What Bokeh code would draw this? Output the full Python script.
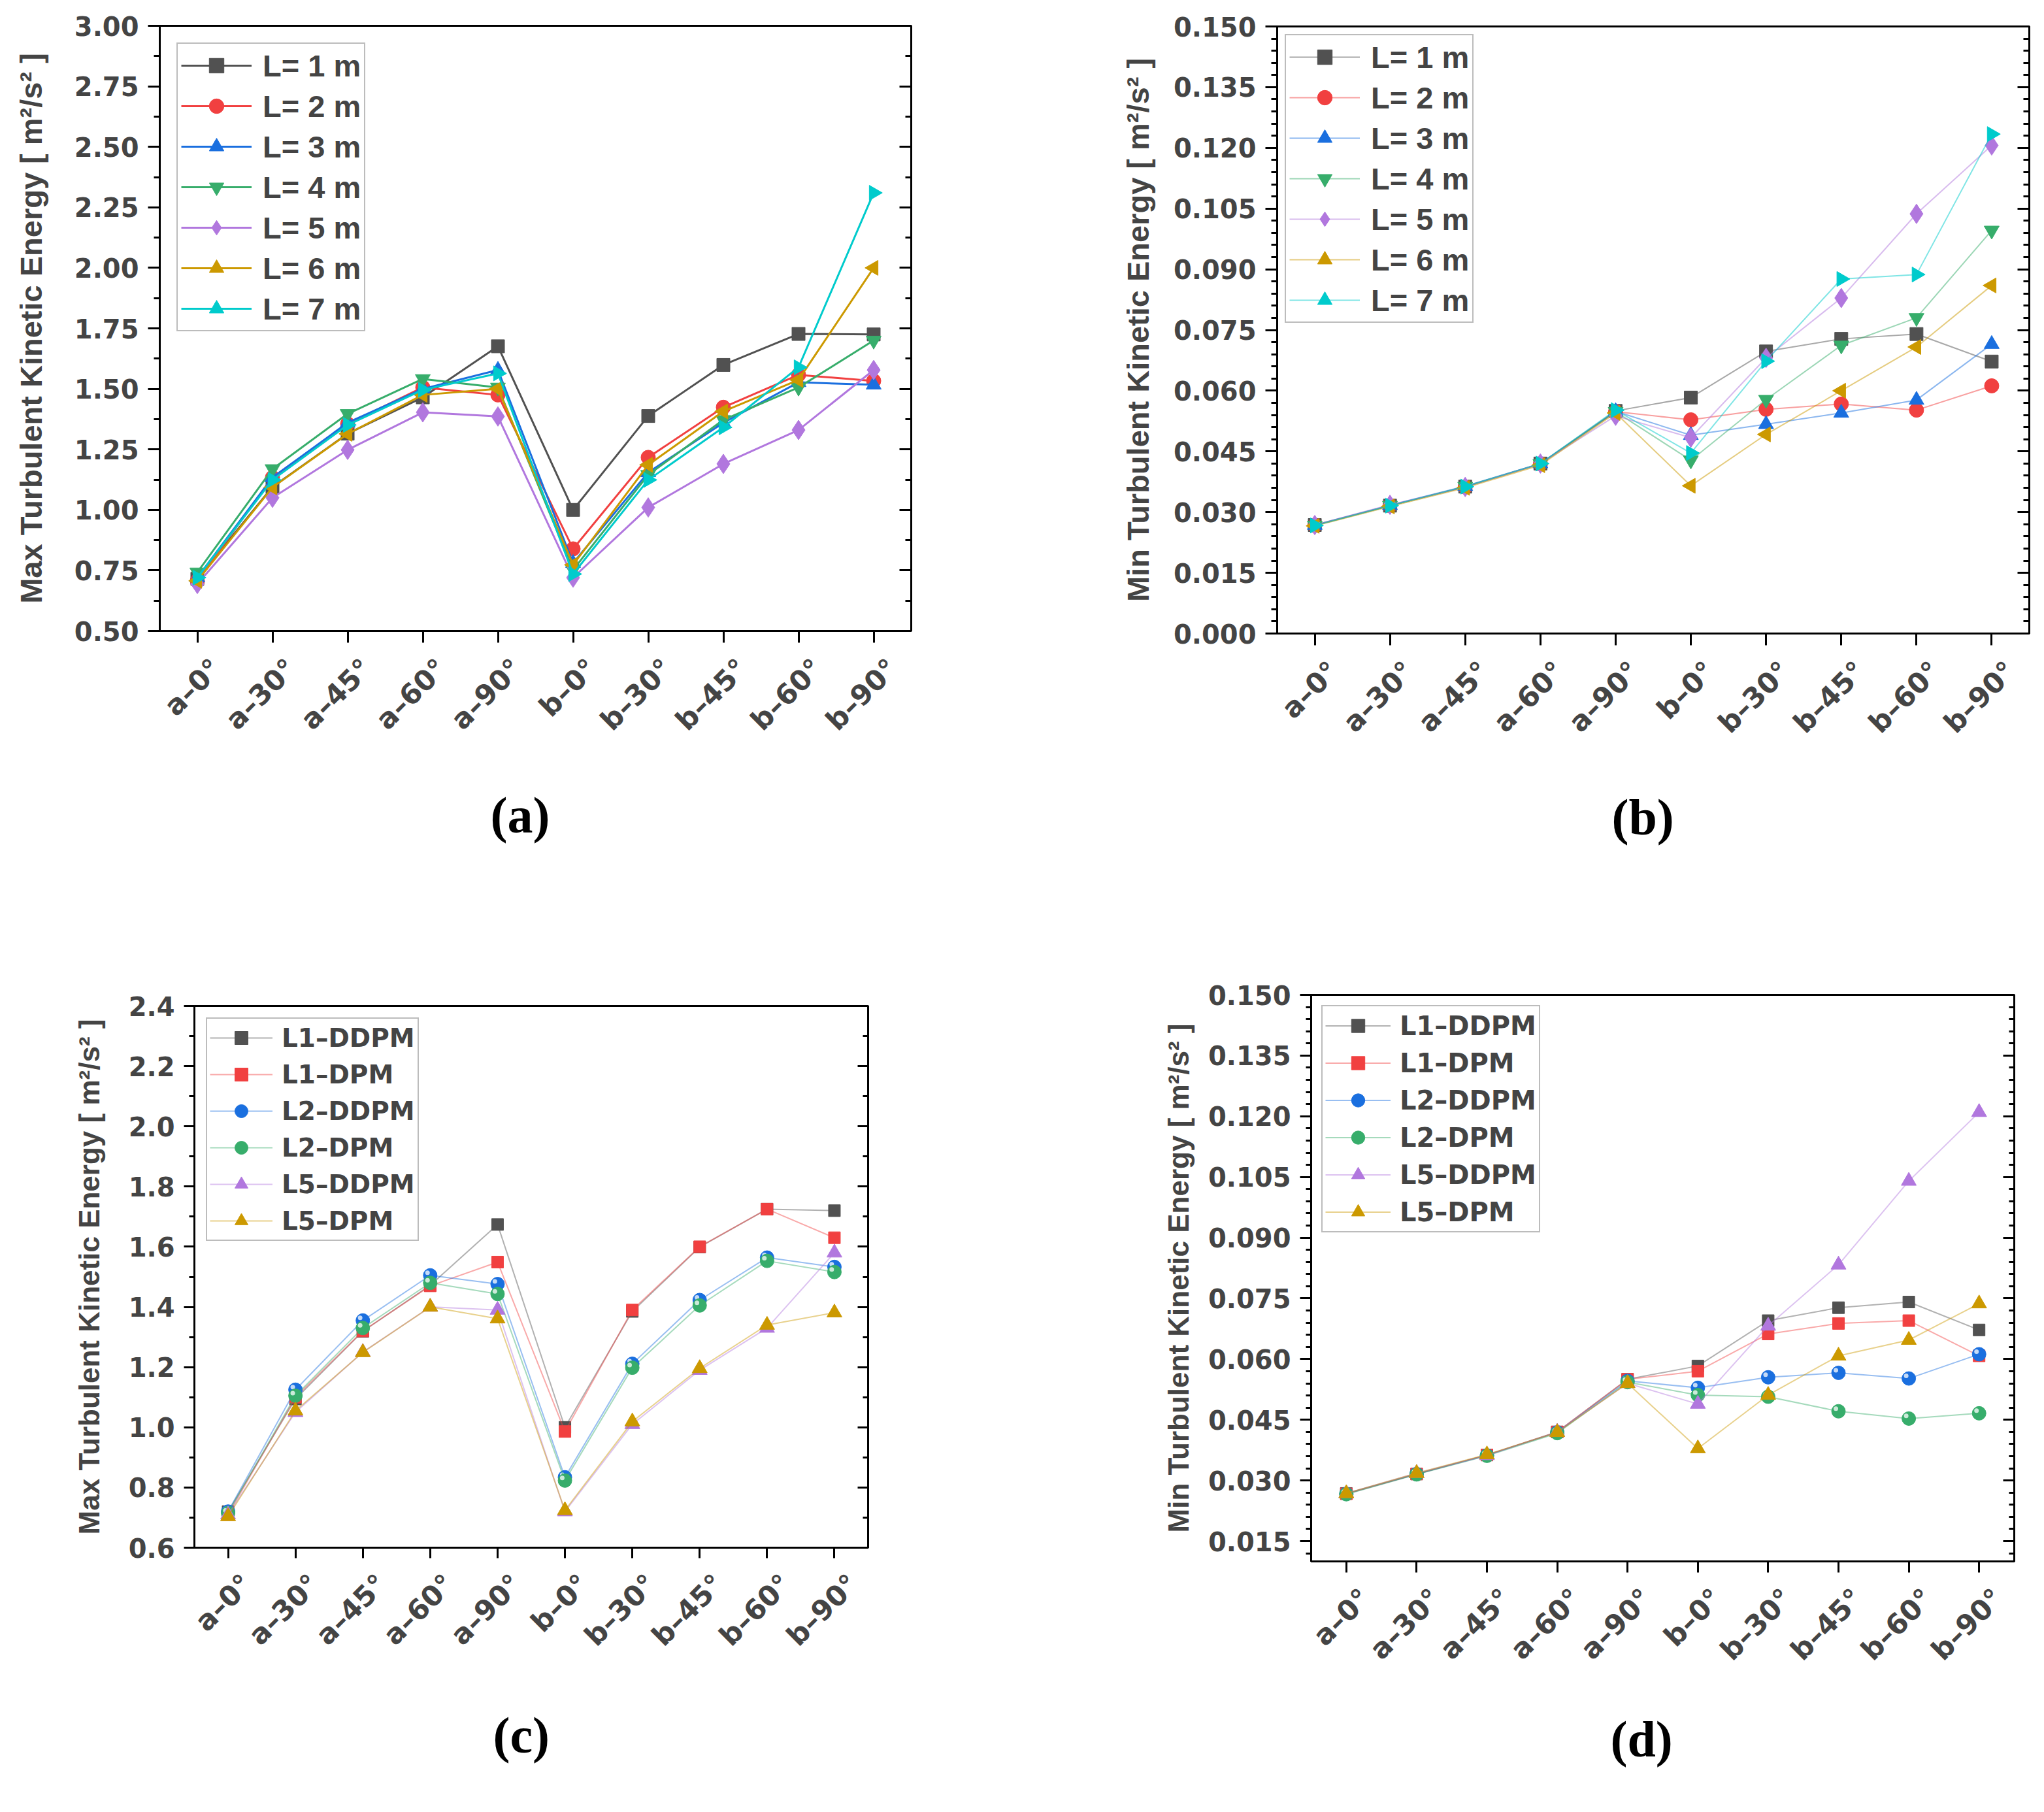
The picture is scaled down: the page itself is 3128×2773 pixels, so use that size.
import math
from bokeh.plotting import figure
from bokeh.models import (Range1d, LinearAxis, SingleIntervalTicker,
                          PrintfTickFormatter, Title, FixedTicker,
                          CustomLabelingPolicy, CustomJSTickFormatter)
from bokeh.layouts import column, row
from bokeh.embed import file_html
from bokeh.resources import INLINE

categories = ["a–0°", "a–30°", "a–45°", "a–60°", "a–90°",
              "b–0°", "b–30°", "b–45°", "b–60°", "b–90°"]

# ---- panel (a): Max TKE, L = 1..7 m
a_names = ["L= 1 m", "L= 2 m", "L= 3 m", "L= 4 m", "L= 5 m", "L= 6 m", "L= 7 m"]
a_L1 = [0.715, 1.095, 1.315, 1.465, 1.676, 1.000, 1.388, 1.599, 1.727, 1.725]
a_L2 = [0.707, 1.134, 1.355, 1.506, 1.475, 0.839, 1.217, 1.424, 1.558, 1.533]
a_L3 = [0.720, 1.134, 1.360, 1.500, 1.578, 0.780, 1.155, 1.360, 1.527, 1.517]
a_L4 = [0.742, 1.169, 1.397, 1.541, 1.506, 0.752, 1.145, 1.372, 1.506, 1.700]
a_L5 = [0.694, 1.050, 1.248, 1.403, 1.386, 0.720, 1.010, 1.190, 1.330, 1.578]
a_L6 = [0.707, 1.093, 1.314, 1.475, 1.500, 0.773, 1.186, 1.407, 1.537, 2.000]
a_L7 = [0.720, 1.124, 1.351, 1.496, 1.564, 0.735, 1.124, 1.341, 1.589, 2.310]

# ---- panel (b): Min TKE, L = 1..7 m
b_L1 = [0.0268, 0.0316, 0.0363, 0.0420, 0.0550, 0.0583, 0.0697, 0.0728, 0.0740, 0.0672]
b_L2 = [0.0267, 0.0316, 0.0362, 0.0419, 0.0548, 0.0528, 0.0554, 0.0567, 0.0552, 0.0612]
b_L3 = [0.0268, 0.0317, 0.0364, 0.0420, 0.0549, 0.0490, 0.0517, 0.0545, 0.0577, 0.0715]
b_L4 = [0.0267, 0.0316, 0.0363, 0.0419, 0.0548, 0.0428, 0.0578, 0.0712, 0.0780, 0.0996]
b_L5 = [0.0268, 0.0318, 0.0362, 0.0420, 0.0538, 0.0484, 0.0681, 0.0829, 0.1037, 0.1206]
b_L6 = [0.0266, 0.0314, 0.0360, 0.0416, 0.0545, 0.0365, 0.0492, 0.0600, 0.0708, 0.0860]
b_L7 = [0.0267, 0.0316, 0.0363, 0.0420, 0.0552, 0.0446, 0.0673, 0.0876, 0.0887, 0.1234]

# ---- panel (c): Max TKE, DDPM vs DPM
cd_names = ["L1–DDPM", "L1–DPM", "L2–DDPM", "L2–DPM", "L5–DDPM", "L5–DPM"]
c_L1_DDPM = [0.720, 1.094, 1.319, 1.472, 1.674, 1.000, 1.385, 1.599, 1.725, 1.720]
c_L1_DPM = [0.710, 1.100, 1.320, 1.470, 1.549, 0.986, 1.390, 1.600, 1.725, 1.630]
c_L2_DDPM = [0.720, 1.125, 1.355, 1.505, 1.476, 0.834, 1.211, 1.423, 1.564, 1.533]
c_L2_DPM = [0.715, 1.105, 1.330, 1.480, 1.443, 0.823, 1.198, 1.405, 1.553, 1.516]
c_L5_DDPM = [0.710, 1.050, 1.250, 1.400, 1.390, 0.720, 1.010, 1.190, 1.330, 1.580]
c_L5_DPM = [0.704, 1.055, 1.249, 1.400, 1.361, 0.724, 1.019, 1.196, 1.340, 1.381]

# ---- panel (d): Min TKE, DDPM vs DPM
d_L1_DDPM = [0.0268, 0.0316, 0.0363, 0.0420, 0.0550, 0.0583, 0.0695, 0.0727, 0.0741, 0.0672]
d_L1_DPM = [0.0267, 0.0316, 0.0363, 0.0420, 0.0550, 0.0570, 0.0662, 0.0688, 0.0695, 0.0608]
d_L2_DDPM = [0.0267, 0.0316, 0.0362, 0.0419, 0.0546, 0.0529, 0.0555, 0.0566, 0.0552, 0.0612]
d_L2_DPM = [0.0266, 0.0315, 0.0361, 0.0417, 0.0543, 0.0511, 0.0507, 0.0471, 0.0453, 0.0466]
d_L5_DDPM = [0.0268, 0.0318, 0.0362, 0.0420, 0.0540, 0.0489, 0.0682, 0.0833, 0.1040, 0.1210]
d_L5_DPM = [0.0268, 0.0318, 0.0364, 0.0419, 0.0540, 0.0379, 0.0511, 0.0608, 0.0647, 0.0737]

GRAY, RED, BLUE, GREEN = "#515151", "#F14040", "#1A6FDF", "#37AD6B"
PURPLE, GOLD, CYAN = "#B177DE", "#CC9900", "#00CBCC"
SANS = "Liberation Sans"
WIDE = "DejaVu Sans"
SERIF = "Liberation Serif"

NCAT = len(categories)
XPOS = [i + 0.5 for i in range(NCAT)]   # category centres on the index scale


def no_labels():
    return CustomLabelingPolicy(code="""
try { for (const i of [...indices]) { indices.unset(i) } } catch (e) {}
return indices
""")


def make_fig(width, height, left, right, top, bottom, y0, y1, interval, nminor,
             fmt, ylabel, tick_fs, title_fs, title_standoff, tick_len,
             x_standoff, x_shift_px):
    p = figure(width=width, height=height, x_range=Range1d(0, NCAT),
               y_range=Range1d(y0, y1), output_backend="svg", toolbar_location=None,
               min_border_left=left, min_border_right=right,
               min_border_top=top, min_border_bottom=bottom)
    p.grid.visible = False
    p.outline_line_color = "black"
    p.outline_line_width = 3
    p.background_fill_color = "white"
    p.border_fill_color = "white"
    ya = p.yaxis[0]
    ya.ticker = SingleIntervalTicker(interval=interval, num_minor_ticks=nminor)
    ya.formatter = PrintfTickFormatter(format=fmt)
    ya.axis_label = ylabel
    ya.axis_label_text_font = SANS
    ya.axis_label_text_font_style = "bold"
    ya.axis_label_text_font_size = f"{title_fs}px"
    ya.axis_label_standoff = title_standoff
    ya.major_label_text_font = WIDE
    ya.major_label_text_font_style = "bold"
    ya.major_label_text_font_size = f"{tick_fs}px"
    ya.major_label_standoff = 14
    ya.major_tick_out = tick_len
    ya.major_tick_in = 0
    ya.minor_tick_out = tick_len // 2
    ya.minor_tick_in = 0
    ya.major_tick_line_width = 3
    ya.minor_tick_line_width = 3
    ya.axis_line_width = 3
    # bottom axis: category ticks only
    xa = p.xaxis[0]
    xa.ticker = FixedTicker(ticks=XPOS, minor_ticks=[])
    xa.major_label_policy = no_labels()
    xa.major_label_text_font_size = "1px"
    xa.major_label_standoff = 0
    xa.major_tick_out = tick_len
    xa.major_tick_in = 0
    xa.major_tick_line_width = 3
    xa.axis_line_width = 3
    # category labels, drawn slightly to the right of their ticks (rotated 45°)
    frame_w = width - left - right
    shift = x_shift_px / (frame_w / NCAT)
    p.extra_x_ranges = {"lab": Range1d(-shift, NCAT - shift)}
    la = LinearAxis(x_range_name="lab",
                    ticker=FixedTicker(ticks=XPOS, minor_ticks=[]),
                    formatter=CustomJSTickFormatter(args=dict(labels=categories),
                                                    code="return labels[Math.round(tick - 0.5)] || ''"),
                    major_label_orientation=math.pi / 4,
                    major_label_text_font=WIDE, major_label_text_font_style="bold",
                    major_label_text_font_size=f"{tick_fs + 3}px",
                    major_label_standoff=x_standoff,
                    major_tick_out=0, major_tick_in=0, minor_tick_out=0, minor_tick_in=0,
                    axis_line_color=None, major_tick_line_color=None,
                    minor_tick_line_color=None)
    p.add_layout(la, "below")
    # mirrored right axis with inward ticks and no labels
    ra = LinearAxis(ticker=SingleIntervalTicker(interval=interval, num_minor_ticks=nminor),
                    major_label_policy=no_labels(),
                    major_label_text_font_size="1px", major_label_standoff=0,
                    major_tick_in=tick_len, major_tick_out=0,
                    minor_tick_in=tick_len // 2, minor_tick_out=0,
                    major_tick_line_width=3, minor_tick_line_width=3,
                    axis_line_width=3)
    p.add_layout(ra, "right")
    return p


def add_caption(p, text, offset, standoff):
    p.add_layout(Title(text=text, align="left", offset=offset, standoff=standoff,
                       vertical_align="top",
                       text_font=SERIF, text_font_size="78px",
                       text_font_style="bold", text_color="black"), "below")


def style_legend(p, font, fs, gw, gh, spacing, padding, margin, standoff):
    lg = p.legend[0]
    lg.location = "top_left"
    lg.label_text_font = font
    lg.label_text_font_style = "bold"
    lg.label_text_font_size = f"{fs}px"
    lg.glyph_width = gw
    lg.glyph_height = gh
    lg.label_height = gh
    lg.spacing = spacing
    lg.padding = padding
    lg.margin = margin
    lg.label_standoff = standoff
    lg.border_line_color = "#7a7a7a"
    lg.border_line_width = 2
    lg.background_fill_alpha = 1.0


def add_series(p, name, ys, color, marker, size, angle, lw, lalpha, hl=None):
    p.line(XPOS, ys, line_color=color, line_width=lw, line_alpha=lalpha,
           legend_label=name)
    p.scatter(XPOS, ys, marker=marker, size=size, angle=angle,
              fill_color=color, line_color=color, line_width=1, legend_label=name)
    if hl is not None:
        p.scatter([x + hl[0] for x in XPOS], [y + hl[1] for y in ys],
                  marker="circle", size=7, fill_color="white",
                  fill_alpha=0.75, line_color=None)


W1, W2 = 1560, 1552
H1, H2 = 1380, 1383

ylab_max = "Max Turbulent Kinetic Energy [ m²/s² ]"
ylab_min = "Min Turbulent Kinetic Energy [ m²/s² ]"

a_colors = [GRAY, RED, BLUE, GREEN, PURPLE, GOLD, CYAN]
a_markers = [("square", 20, 0), ("circle", 22, 0), ("triangle", 23, 0),
             ("inverted_triangle", 23, 0), ("diamond", 30, 0),
             ("triangle", 23, math.pi / 2), ("triangle", 23, -math.pi / 2)]

# ---------------- (a)
pa = make_fig(W1, H1, 244, 166, 39, 415, 0.5, 3.0001, 0.25, 2, "%.2f", ylab_max,
              40, 47, 37, 18, 28, 29)
for n, ys, c, (m, s, ang) in zip(a_names, [a_L1, a_L2, a_L3, a_L4, a_L5, a_L6, a_L7],
                                 a_colors, a_markers):
    add_series(pa, n, ys, c, m, s, ang, 3, 1.0)
style_legend(pa, SANS, 47, 108, 56, 6, 5, 26, 17)
add_caption(pa, "(a)", 506, 110)

# ---------------- (b)
pb = make_fig(W2, H1, 394, 7, 40, 411, 0.0, 0.1500001, 0.015, 5, "%.3f", ylab_min,
              40, 47, 25, 18, 28, 29)
for n, ys, c, (m, s, ang) in zip(a_names, [b_L1, b_L2, b_L3, b_L4, b_L5, b_L6, b_L7],
                                 a_colors, a_markers):
    add_series(pb, n, ys, c, m, s, ang, 2, 0.5)
style_legend(pb, SANS, 47, 108, 56, 6, 5, 12, 17)
add_caption(pb, "(b)", 512, 108)

# ---------------- (c)
cd_colors = [GRAY, RED, BLUE, GREEN, PURPLE, GOLD]
cd_markers = [("square", 18, False), ("square", 18, False),
              ("circle", 21, True), ("circle", 21, True),
              ("triangle", 23, False), ("triangle", 23, False)]
pc = make_fig(W1, H2, 297, 232, 159, 395, 0.6, 2.4001, 0.2, 2, "%.1f", ylab_max,
              40, 44, 33, 16, 28, 29)
for n, ys, c, (m, s, hl) in zip(cd_names,
                                [c_L1_DDPM, c_L1_DPM, c_L2_DDPM, c_L2_DPM, c_L5_DDPM, c_L5_DPM],
                                cd_colors, cd_markers):
    add_series(pc, n, ys, c, m, s, 0, 2, 0.45, (-0.04, 0.0087) if hl else None)
style_legend(pc, WIDE, 39, 96, 50, 6, 4, 18, 14)
add_caption(pc, "(c)", 457, 124)

# ---------------- (d)
pd_ = make_fig(W2, H2, 446, 30, 142, 374, 0.010, 0.1500001, 0.015, 5, "%.3f", ylab_min,
               40, 44, 18, 17, 28, 29)
for n, ys, c, (m, s, hl) in zip(cd_names,
                                [d_L1_DDPM, d_L1_DPM, d_L2_DDPM, d_L2_DPM, d_L5_DDPM, d_L5_DPM],
                                cd_colors, cd_markers):
    add_series(pd_, n, ys, c, m, s, 0, 2, 0.45, (-0.037, 0.00065) if hl else None)
style_legend(pd_, WIDE, 40, 100, 51, 6, 4, 16, 14)
add_caption(pd_, "(d)", 458, 93)

layout = column(row(column(pa), column(pb)), row(column(pc), column(pd_)))
open("out.html", "w").write(file_html(layout, INLINE))
